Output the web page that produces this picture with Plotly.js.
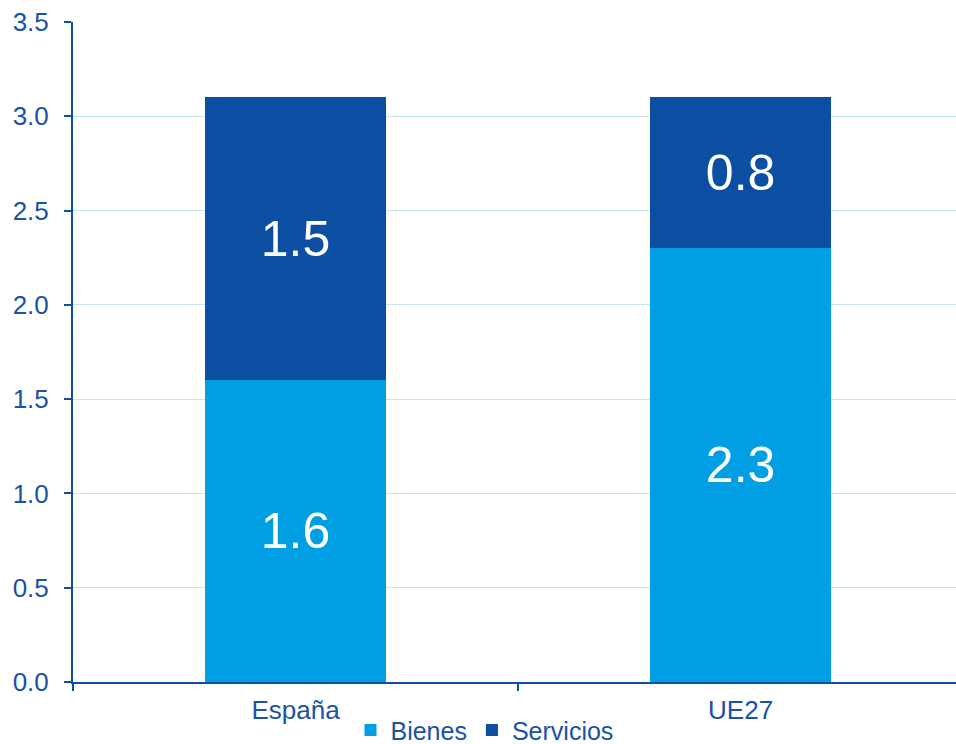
<!DOCTYPE html>
<html>
<head>
<meta charset="utf-8">
<script src="https://cdn.plot.ly/plotly-3.0.1.min.js"></script>
<style>html,body{margin:0;padding:0;background:#fff;}#chart{width:956px;height:744px;}</style>
</head>
<body>
<div id="chart"></div>
<script>
var categories = ["España", "UE27"];
var bienes = [1.6, 2.3];
var servicios = [1.5, 0.8];
var yTicks = [0, 0.5, 1, 1.5, 2, 2.5, 3, 3.5];
var yTickLabels = ["0.0", "0.5", "1.0", "1.5", "2.0", "2.5", "3.0", "3.5"];

var axisBlue = "#0B4EA2";
var textBlue = "#1A52A5";
var font = "Liberation Sans, Arial, sans-serif";

var traces = [
  {
    type: "bar", name: "Bienes", x: categories, y: bienes,
    marker: {color: "#009FE3", line: {width: 0}},
    width: 0.405,
    text: bienes.map(function(v){return v.toFixed(1);}),
    textposition: "inside", insidetextanchor: "middle",
    textfont: {color: "#ffffff", size: 50, family: font},
    hoverinfo: "none"
  },
  {
    type: "bar", name: "Servicios", x: categories, y: servicios,
    marker: {color: "#0B4EA2", line: {width: 0}},
    width: 0.405,
    text: servicios.map(function(v){return v.toFixed(1);}),
    textposition: "inside", insidetextanchor: "middle",
    textfont: {color: "#ffffff", size: 50, family: font},
    hoverinfo: "none"
  }
];

var layout = {
  width: 956, height: 744,
  margin: {l: 73, r: 0, t: 22, b: 62, pad: 0, autoexpand: false},
  paper_bgcolor: "#ffffff", plot_bgcolor: "#ffffff",
  barmode: "stack",
  font: {family: font, color: textBlue, size: 26},
  showlegend: true,
  legend: {
    orientation: "h", traceorder: "normal",
    x: 0.466, xanchor: "center", y: -0.073, yanchor: "middle",
    font: {size: 25, color: textBlue, family: font},
    itemwidth: 30, tracegroupgap: 0, bgcolor: "rgba(0,0,0,0)"
  },
  xaxis: {
    type: "category",
    range: [-0.5, 1.484],
    tickson: "boundaries",
    ticks: "outside", ticklen: 7, tickwidth: 2, tickcolor: axisBlue,
    ticklabelstandoff: 4,
    showline: true, linecolor: axisBlue, linewidth: 2,
    showgrid: false, zeroline: false,
    tickfont: {size: 26, color: textBlue, family: font},
    fixedrange: true
  },
  yaxis: {
    range: [0, 3.5],
    tickvals: yTicks, ticktext: yTickLabels,
    ticks: "outside", ticklen: 7, tickwidth: 2, tickcolor: axisBlue,
    ticklabelstandoff: 10,
    showline: true, linecolor: axisBlue, linewidth: 2,
    showgrid: true, gridcolor: "#C3E5F6", gridwidth: 1,
    zeroline: false,
    tickfont: {size: 26, color: textBlue, family: font},
    fixedrange: true
  }
};

Plotly.newPlot("chart", traces, layout, {displayModeBar: false, staticPlot: true});
</script>
</body>
</html>
